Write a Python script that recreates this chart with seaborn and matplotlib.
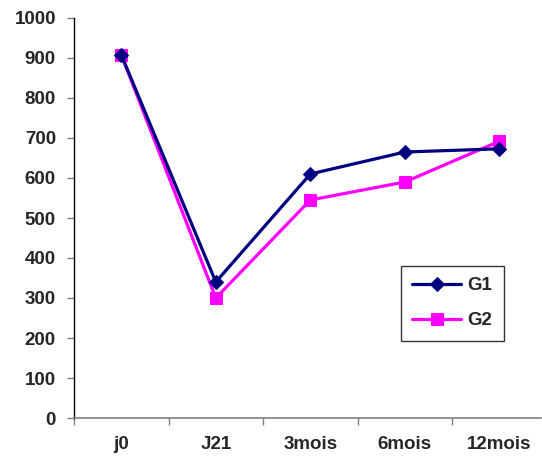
import matplotlib
matplotlib.use("Agg")
import matplotlib.pyplot as plt
import seaborn as sns
import pandas as pd
from matplotlib.ticker import FixedLocator

# Measurements per time point for the two groups
categories = ["j0", "J21", "3mois", "6mois", "12mois"]
g1_values = [908, 340, 610, 665, 673]
g2_values = [908, 300, 545, 590, 692]
y_ticks = [0, 100, 200, 300, 400, 500, 600, 700, 800, 900, 1000]

df = pd.DataFrame({
    "temps": list(range(len(categories))) * 2,
    "valeur": g1_values + g2_values,
    "groupe": ["G1"] * len(categories) + ["G2"] * len(categories),
})

sns.set_theme(style="white")
plt.rcParams["font.family"] = ["Liberation Sans", "DejaVu Sans"]
plt.rcParams["font.weight"] = "bold"

FS = 13.5
W, H = 542, 461
fig = plt.figure(figsize=(W / 100, H / 100), dpi=100)
ax = fig.add_axes([74 / W, (H - 418) / H, (541 - 74) / W, 400 / H])

palette = {"G1": "#000080", "G2": "#FF00FF"}
markers = {"G1": "D", "G2": "s"}
for grp in ["G1", "G2"]:
    sub = df[df["groupe"] == grp]
    sns.lineplot(data=sub, x="temps", y="valeur", ax=ax, color=palette[grp],
                 marker=markers[grp], markersize=7 if grp == "G1" else 8,
                 markeredgecolor=palette[grp], linewidth=2.3, label=grp,
                 zorder=3 if grp == "G2" else 4)

ax.set_xlim(-0.5, 4.44)
ax.set_ylim(0, 1000)
ax.set_xlabel("")
ax.set_ylabel("")

# Category labels at centres, tick marks between categories
ax.set_xticks(range(len(categories)))
ax.set_xticklabels(categories, fontsize=FS, fontweight="bold")
ax.xaxis.set_minor_locator(FixedLocator([i - 0.5 for i in range(len(categories) + 1)]))
ax.tick_params(axis="x", which="major", length=0, pad=13)
ax.tick_params(axis="x", which="minor", length=5, width=1, color="#808080", direction="out", bottom=True)

ax.set_yticks(y_ticks)
ax.set_yticklabels([str(v) for v in y_ticks], fontsize=FS, fontweight="bold")
ax.tick_params(axis="y", which="major", length=5, width=1, color="#808080", direction="out", left=True, pad=8)

for s in ["top", "right"]:
    ax.spines[s].set_visible(False)
ax.spines["left"].set_color("black")
ax.spines["left"].set_linewidth(1)
ax.spines["bottom"].set_color("#808080")
ax.spines["bottom"].set_linewidth(1.2)

leg = ax.legend(loc="upper left", bbox_to_anchor=(401 / W, 1 - 266 / H),
                bbox_transform=fig.transFigure, frameon=True, fancybox=False,
                edgecolor="black", prop={"weight": "bold", "size": FS},
                handlelength=2.6, borderpad=0.6, labelspacing=0.95,
                handletextpad=0.35, borderaxespad=0)
leg.get_frame().set_linewidth(1)

fig.savefig("out.png", dpi=100)
